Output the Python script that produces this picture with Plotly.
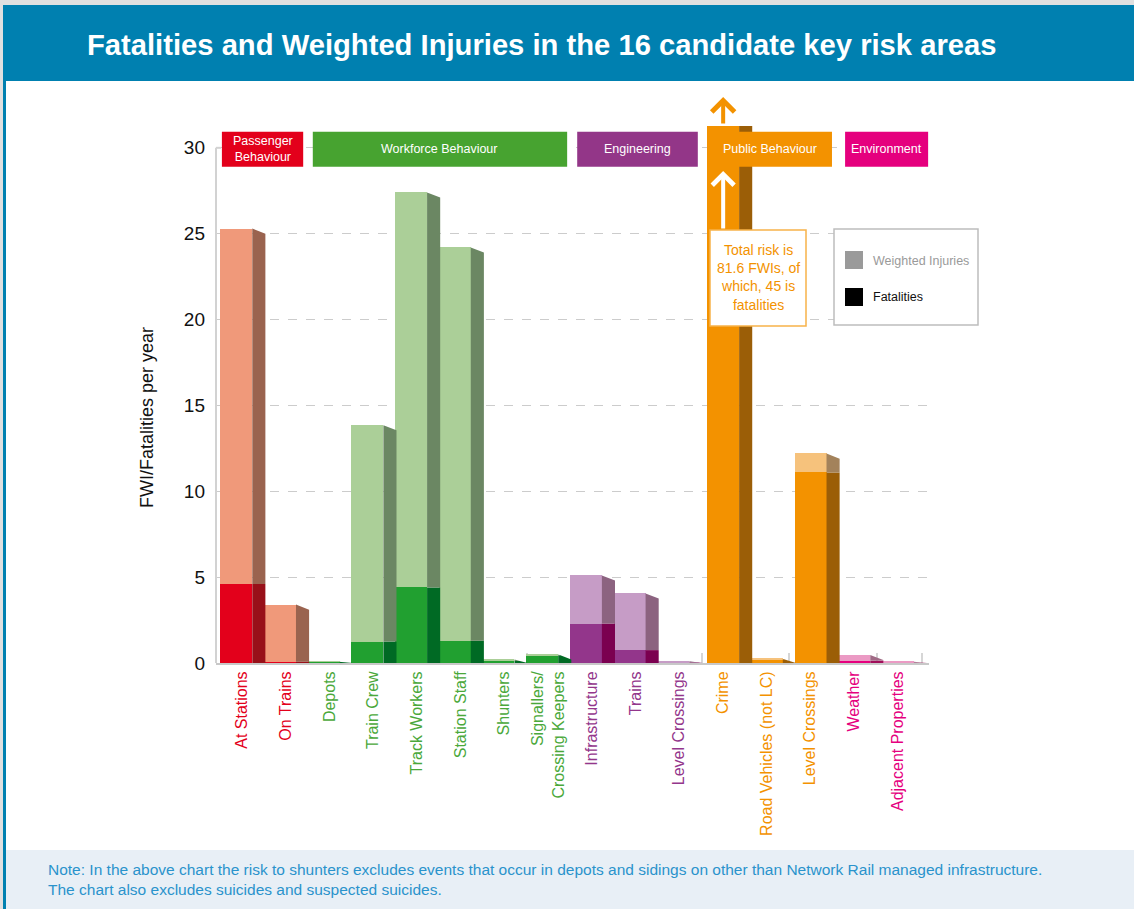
import plotly.graph_objects as go

# ---- data -------------------------------------------------------------
categories = [
    "At Stations", "On Trains", "Depots", "Train Crew", "Track Workers",
    "Station Staff", "Shunters", "Signallers/<br>Crossing Keepers",
    "Infrastructure", "Trains", "Level Crossings", "Crime",
    "Road Vehicles (not LC)", "Level Crossings", "Weather", "Adjacent Properties",
]
category_group = [0, 0, 1, 1, 1, 1, 1, 1, 2, 2, 2, 3, 3, 3, 4, 4]
fatalities = [4.6, 0.08, 0.06, 1.25, 4.4, 1.3, 0.12, 0.45,
              2.3, 0.75, 0.03, 45.0, 0.22, 11.1, 0.14, 0.02]
weighted_injuries = [20.7, 3.32, 0.01, 12.6, 23.0, 22.9, 0.08, 0.05,
                     2.8, 3.3, 0.07, 36.6, 0.02, 1.1, 0.33, 0.05]
group_names = ["Passenger<br>Behaviour", "Workforce Behaviour", "Engineering",
               "Public Behaviour", "Environment"]
y_ticks = [0, 5, 10, 15, 20, 25, 30]
highlight_category = 11  # Crime, whose bar runs off the top of the scale

# ---- styling ----------------------------------------------------------
group_style = [
    dict(box="#e3001b", label="#e3001b", fat="#e3001b", inj="#f0997a",
         fat_side="#981019", inj_side="#9a634f"),
    dict(box="#47a330", label="#4aa83a", fat="#21a030", inj="#abcf98",
         fat_side="#006a24", inj_side="#6b8763"),
    dict(box="#933688", label="#93368b", fat="#93368b", inj="#c69cc6",
         fat_side="#7b0050", inj_side="#8c6380"),
    dict(box="#f39200", label="#f39200", fat="#f39200", inj="#f6c27c",
         fat_side="#9b5e07", inj_side="#a3825b"),
    dict(box="#e5007e", label="#e5007e", fat="#e5007e", inj="#eb9ac4",
         fat_side="#a00e5a", inj_side="#a06a85"),
]
group_offset = [-0.13, -0.13, -0.13, 0.01, 0.01]   # front-face shift per group
group_box_x = [(-0.46, 1.40), (1.62, 7.44), (7.67, 10.43), (10.66, 13.50), (13.80, 15.70)]
BOX_Y = (28.89, 30.93)

FRONT_W = 0.73
SIDE_W = 0.30
SLANT = 0.3
X_RANGE = [-0.595, 15.72]
Y_RANGE = [0, 31.27]

W, H = 1134, 909
PL, PR, PT, PB = 216, 929, 126, 663     # plot area in pixels
FONT = "Liberation Sans, Arial, sans-serif"


def px(x):
    return (x - PL) / (PR - PL)


def py(y):
    return (PB - y) / (PB - PT)


def xd(x):
    return X_RANGE[0] + px(x) * (X_RANGE[1] - X_RANGE[0])


def yd(y):
    return Y_RANGE[0] + py(y) * (Y_RANGE[1] - Y_RANGE[0])


n = len(categories)
front_x = [i + group_offset[category_group[i]] for i in range(n)]
totals = [f + w for f, w in zip(fatalities, weighted_injuries)]

fig = go.Figure()

# front faces
fig.add_trace(go.Bar(
    x=front_x, y=fatalities, width=FRONT_W, name="Fatalities",
    marker=dict(color=[group_style[g]["fat"] for g in category_group], line_width=0),
    showlegend=False,
))
fig.add_trace(go.Bar(
    x=front_x, y=weighted_injuries, base=fatalities, width=FRONT_W,
    name="Weighted Injuries",
    marker=dict(color=[group_style[g]["inj"] for g in category_group], line_width=0),
    showlegend=False,
))


def side_polygons(xl, xr, fat, tot, s):
    """Right-hand side face of a stacked bar, top edge slanting downwards."""
    top_r = max(tot - s, 0.0)
    if top_r >= fat:
        fat_poly = [(xl, 0), (xl, fat), (xr, fat), (xr, 0)]
        inj_poly = [(xl, fat), (xl, tot), (xr, top_r), (xr, fat)] if tot > fat else None
    else:
        xc = xl + (tot - fat) / (tot - top_r) * (xr - xl) if tot > top_r else xl
        fat_poly = [(xl, 0), (xl, min(fat, tot)), (xc, fat), (xr, top_r), (xr, 0)]
        inj_poly = [(xl, fat), (xl, tot), (xc, fat)] if tot > fat else None
    return fat_poly, inj_poly


for i in range(n):
    st = group_style[category_group[i]]
    xl = front_x[i] + FRONT_W / 2
    xr = xl + SIDE_W
    fat_poly, inj_poly = side_polygons(xl, xr, fatalities[i], totals[i], SLANT)
    for poly, col in ((fat_poly, st["fat_side"]), (inj_poly, st["inj_side"])):
        if poly is None:
            continue
        xs = [p[0] for p in poly] + [poly[0][0]]
        ys = [p[1] for p in poly] + [poly[0][1]]
        fig.add_trace(go.Scatter(
            x=xs, y=ys, mode="lines", fill="toself", fillcolor=col,
            line=dict(width=0, color=col), hoverinfo="skip", showlegend=False,
        ))

shapes = []
annotations = []


def note(x, y, text, size, color, xanchor="center", yanchor="middle", **kw):
    annotations.append(dict(xref="paper", yref="paper", x=px(x), y=py(y),
                            xanchor=xanchor, yanchor=yanchor, text=text,
                            showarrow=False, font=dict(family=FONT, size=size, color=color),
                            **kw))


# page furniture: top band, title banner, left rule, note panel
shapes += [
    dict(type="rect", xref="paper", yref="paper", x0=px(0), x1=px(W), y0=py(0), y1=py(5),
         fillcolor="#e0e0e0", line_width=0, layer="below"),
    dict(type="rect", xref="paper", yref="paper", x0=px(0), x1=px(3), y0=py(0), y1=py(H),
         fillcolor="#e0e0e0", line_width=0, layer="below"),
    dict(type="rect", xref="paper", yref="paper", x0=px(3), x1=px(W), y0=py(5), y1=py(81),
         fillcolor="#0080b0", line_width=0, layer="below"),
    dict(type="rect", xref="paper", yref="paper", x0=px(3), x1=px(6), y0=py(81), y1=py(H),
         fillcolor="#0080b0", line_width=0, layer="below"),
    dict(type="rect", xref="paper", yref="paper", x0=px(6), x1=px(W), y0=py(850), y1=py(H),
         fillcolor="#e8eff6", line_width=0, layer="below"),
]
annotations.append(dict(
    xref="paper", yref="paper", x=px(85), y=py(45), xanchor="left", yanchor="middle",
    text="Fatalities and Weighted Injuries in the 16 candidate key risk areas",
    showarrow=False, font=dict(family=FONT, size=29.2, color="white", weight="bold"),
))
note(46, 879, ("Note: In the above chart the risk to shunters excludes events that occur in "
               "depots and sidings on other than Network Rail managed infrastructure.<br>"
               "The chart also excludes suicides and suspected suicides."),
     15.5, "#2a93cc", xanchor="left", align="left")

# y axis rule with a small hook at the top
shapes += [
    dict(type="line", xref="paper", yref="y", x0=0, x1=0, y0=0, y1=30,
         line=dict(color="#d2d2d2", width=2)),
    dict(type="line", xref="paper", yref="y", x0=0, x1=px(221), y0=30, y1=30,
         line=dict(color="#d2d2d2", width=2)),
]

# group header boxes
for g, name in enumerate(group_names):
    x0, x1 = group_box_x[g]
    shapes.append(dict(type="rect", xref="x", yref="y", x0=x0, x1=x1,
                       y0=BOX_Y[0], y1=BOX_Y[1], fillcolor=group_style[g]["box"],
                       line_width=0))
    annotations.append(dict(xref="x", yref="y", x=(x0 + x1) / 2, y=sum(BOX_Y) / 2,
                            xanchor="center", yanchor="middle",
                            text=name, showarrow=False,
                            font=dict(family=FONT, size=12.5, color="white")))

# call-out for the bar that runs off the scale
hx = front_x[highlight_category]
shapes.append(dict(type="rect", xref="x", yref="y", x0=xd(710), x1=xd(806),
                   y0=yd(326), y1=yd(230), fillcolor="white",
                   line=dict(color="#f7b24a", width=1.5)))
note(758, 277,
     (f"Total risk is<br>{totals[highlight_category]:.1f} FWIs, of<br>"
      f"which, {fatalities[highlight_category]:.0f} is<br>fatalities"),
     14, "#f39200")
# arrow above the scale (y in paper units so it is drawn outside the axis range)
annotations.append(dict(
    xref="x", yref="paper", x=hx, y=py(97), axref="pixel", ayref="pixel", ax=0, ay=28,
    text="", showarrow=True, arrowhead=4, arrowsize=1.1, arrowwidth=4,
    arrowcolor="#f39200",
))
annotations.append(dict(
    xref="x", yref="y", x=hx, y=yd(171), axref="x", ayref="y", ax=hx, ay=yd(230),
    text="", showarrow=True, arrowhead=4, arrowsize=1.05, arrowwidth=4,
    arrowcolor="white",
))

# legend box
shapes += [
    dict(type="rect", xref="paper", yref="paper", x0=px(834), x1=px(978),
         y0=py(325), y1=py(229), fillcolor="white", line=dict(color="#bdbdbd", width=1.5)),
    dict(type="rect", xref="paper", yref="paper", x0=px(845), x1=px(863),
         y0=py(269), y1=py(251), fillcolor="#9a9a9a", line_width=0),
    dict(type="rect", xref="paper", yref="paper", x0=px(845), x1=px(863),
         y0=py(306), y1=py(288), fillcolor="black", line_width=0),
]
note(871, 261, "Weighted Injuries", 12.5, "#9a9a9a", xanchor="left")
note(871, 297, "Fatalities", 12.5, "#111111", xanchor="left")

# y axis title
note(147, 418, "FWI/Fatalities per year", 18, "#111111", textangle=-90)

tick_text = [f'<span style="color:{group_style[category_group[i]]["label"]}">{c}</span>'
             for i, c in enumerate(categories)]

fig.update_layout(
    width=W, height=H,
    margin=dict(l=PL, r=W - PR, t=PT, b=H - PB, pad=0),
    paper_bgcolor="white", plot_bgcolor="white",
    barmode="overlay", bargap=0,
    showlegend=False,
    font=dict(family=FONT),
    shapes=shapes, annotations=annotations,
    xaxis=dict(
        range=X_RANGE, tickmode="array", tickvals=list(range(n)), ticktext=tick_text,
        tickangle=-90, ticks="", tickfont=dict(size=16, family=FONT),
        showgrid=False, zeroline=False, showline=True, linecolor="#c8c8c8", linewidth=2,
        layer="below traces",
        minor=dict(tickvals=[0.52 + 2 * k for k in range(8)] + [15.56], ticks="inside",
                   ticklen=10, tickcolor="#d6d6d6", tickwidth=1.5, showgrid=False),
    ),
    yaxis=dict(
        range=Y_RANGE, tickmode="array", tickvals=y_ticks, ticks="",
        tickfont=dict(size=19, family=FONT, color="#111111"), ticklabelstandoff=10,
        showgrid=True, gridcolor="#cccccc", griddash="dash", gridwidth=1,
        zeroline=False, showline=False,
    ),
)

fig.write_html("out.html")
